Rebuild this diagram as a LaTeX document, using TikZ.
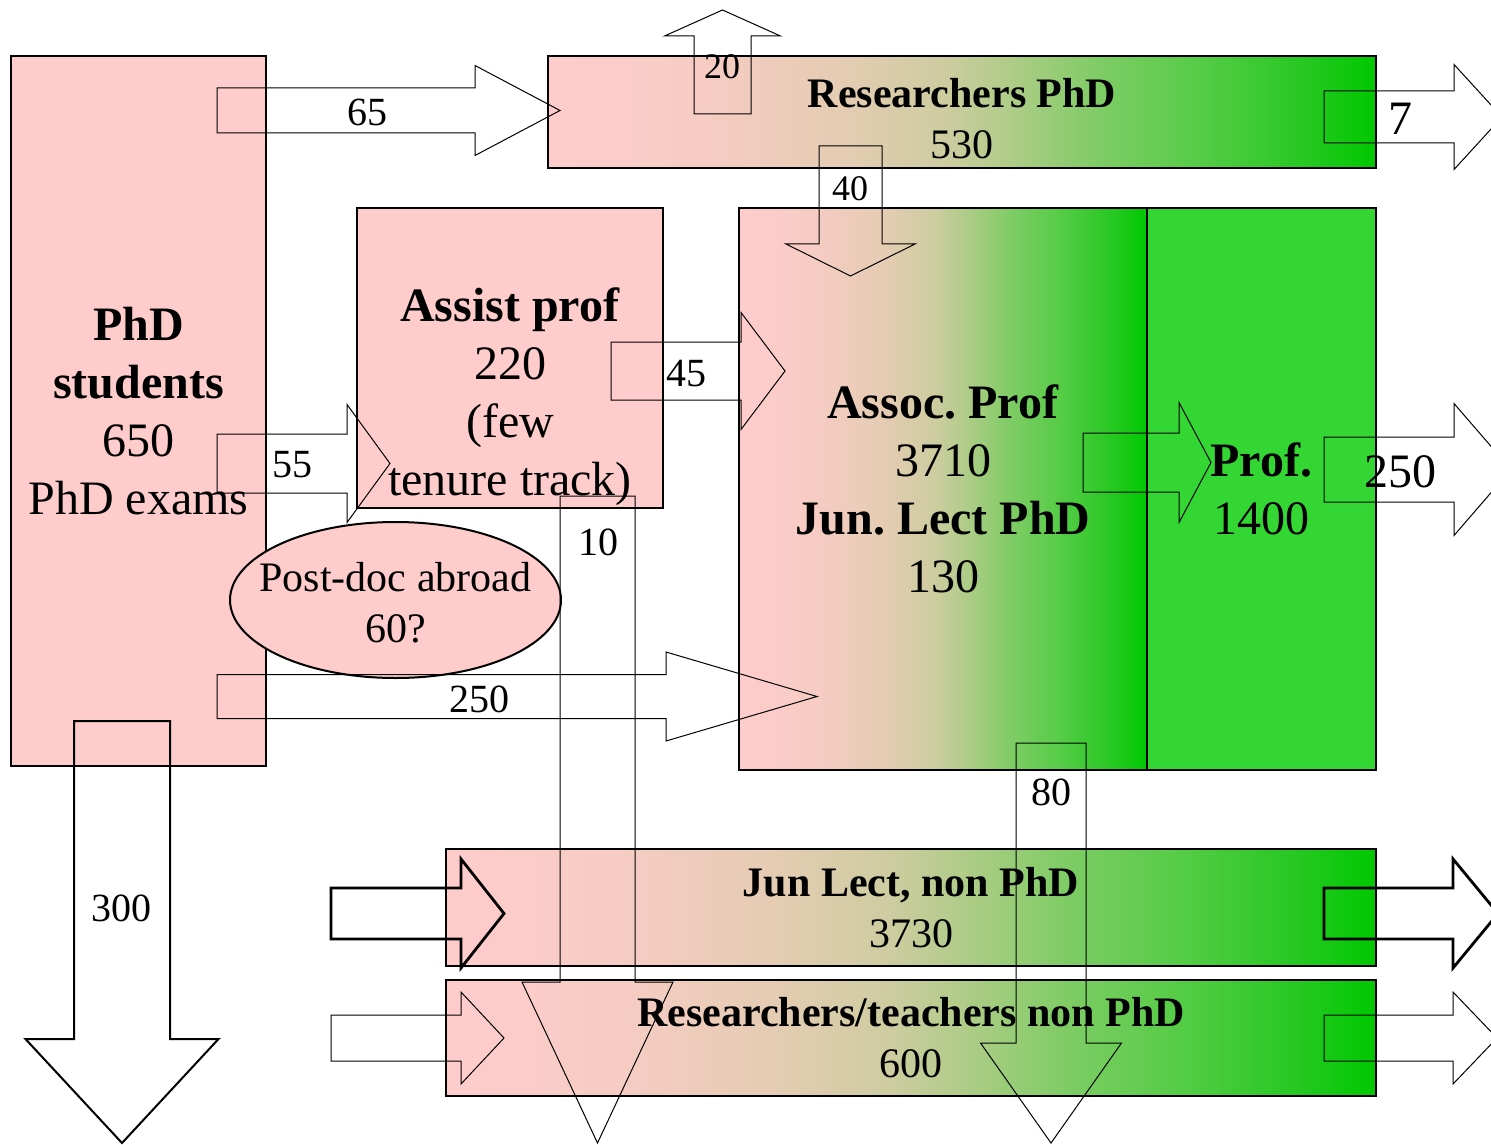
\documentclass[tikz,border=0pt]{standalone}
\usepackage{fontspec}
\setmainfont{Liberation Serif}
\usetikzlibrary{shapes.geometric}
\frenchspacing
\definecolor{boxpink}{RGB}{255,204,204}
\definecolor{profgreen}{RGB}{51,214,51}
\pgfdeclarehorizontalshading{pinkgreen}{100bp}{rgb(0bp)=(1,0.8,0.8); rgb(25bp)=(1,0.8,0.8);
  rgb(34bp)=(0.969,0.8,0.769); rgb(43bp)=(0.894,0.8,0.698); rgb(49bp)=(0.804,0.8,0.627);
  rgb(52.5bp)=(0.698,0.8,0.541); rgb(58.5bp)=(0.49,0.8,0.392); rgb(64.5bp)=(0.333,0.8,0.275);
  rgb(70.5bp)=(0.157,0.784,0.137); rgb(75bp)=(0,0.784,0); rgb(100bp)=(0,0.784,0)}
% block arrow to the right: tail x, shaft end x, tip x, mid y, half shaft, half head
\newcommand{\rflow}[7][]{\draw[flow,#1] (#2,#5-#6) -- (#3,#5-#6) -- (#3,#5-#7) -- (#4,#5)
  -- (#3,#5+#7) -- (#3,#5+#6) -- (#2,#5+#6) -- cycle;}
% vertical block arrow: mid x, tail y, shaft end y, tip y, half shaft, half head
\newcommand{\vflow}[7][]{\draw[flow,#1] (#2-#6,#3) -- (#2-#6,#4) -- (#2-#7,#4) -- (#2,#5)
  -- (#2+#7,#4) -- (#2+#6,#4) -- (#2+#6,#3) -- cycle;}
\begin{document}
\begin{tikzpicture}[x=0.5pt,y=-0.5pt,
  box/.style={draw,line width=1pt,inner sep=0pt,align=center},
  pinkbox/.style={box,fill=boxpink},
  gradbox/.style={box,shading=pinkgreen},
  big/.style={font=\fontsize{24}{29}\selectfont,align=center},
  mid/.style={font=\fontsize{21}{25.5}\selectfont,align=center},
  flow/.style={line width=0.5pt},
  num/.style={font=\fontsize{20}{24}\selectfont,inner sep=0pt},
  smallnum/.style={font=\fontsize{18}{22}\selectfont,inner sep=0pt},
  bignum/.style={font=\fontsize{24}{29}\selectfont,inner sep=0pt}]
 \clip (0,0) rectangle (1491,1144);
 % boxes
 \node[pinkbox,big,minimum width=127.5pt,minimum height=355pt] (phd) at (138.5,411)
   {\textbf{PhD}\\\textbf{students}\\650\\PhD exams};
 \node[gradbox,minimum width=414pt,minimum height=56pt] (resphd) at (962,112) {};
 \node[mid] (resphdtxt) at (962,119) {\textbf{Researchers PhD}\\530};
 \node[pinkbox,minimum width=153pt,minimum height=150pt] (assist) at (510,358) {};
 \node[big] (assisttxt) at (510,397) {\textbf{Assist prof}\\220\\(few\\tenure track)};
 \node[gradbox,big,minimum width=204pt,minimum height=281pt] (assoc) at (943,489)
   {\textbf{Assoc. Prof}\\3710\\\textbf{Jun. Lect PhD}\\130};
 \node[box,fill=profgreen,big,minimum width=114.5pt,minimum height=281pt] (prof) at (1261.5,489)
   {\textbf{Prof.}\\1400};
 \node[gradbox,mid,minimum width=465pt,minimum height=58.5pt] (junlect) at (911,907.5)
   {\textbf{Jun Lect, non PhD}\\3730};
 \node[gradbox,mid,minimum width=465pt,minimum height=58pt] (resteach) at (911,1038)
   {\textbf{Researchers/teachers non PhD}\\600};
 \node[ellipse,draw,line width=1pt,fill=boxpink,inner sep=0pt,
   minimum width=165.5pt,minimum height=78pt] (postdoc) at (395.5,600) {};
 \node[mid] (postdoctxt) at (395.5,603) {Post-doc abroad\\60?};
 % flows
 \rflow{217}{475}{560}{110.5}{22.5}{45}
 \vflow{722.5}{114}{36}{10}{28.5}{58}
 \vflow{850.5}{146}{244}{276}{31.5}{64.5}
 \rflow{1324}{1454}{1502}{117}{26}{52.5}
 \rflow{611}{741}{785}{371}{29}{58.5}
 \rflow{217}{347}{390}{463.5}{29.5}{59}
 \vflow{597.5}{496}{982}{1143}{37.5}{75.5}
 \rflow{217}{666}{817}{696.5}{22}{44.5}
 \vflow[line width=1pt]{122}{721}{1039}{1143}{48}{96.5}
 \rflow[line width=1.4pt]{331}{461}{504}{913.5}{25.5}{54.5}
 \rflow{331}{461}{504}{1038}{23}{46}
 \rflow[line width=1.4pt]{1324}{1453}{1498}{913.5}{25.5}{54.5}
 \rflow{1324}{1453}{1497}{1038}{23}{46}
 \vflow{1051}{743}{1043}{1143}{35}{70.5}
 \rflow{1324}{1454}{1511}{469.5}{32.5}{66}
 \rflow{1083}{1179}{1211}{462.5}{29.5}{60}
 % flow labels
 \node[num] (l65) at (367,112) {65};
 \node[smallnum] (l20) at (722,67) {20};
 \node[smallnum] (l40) at (850,189) {40};
 \node[bignum] (l7) at (1400,119) {7};
 \node[num] (l45) at (686,374) {45};
 \node[num] (l55) at (292,465) {55};
 \node[num] (l10) at (598,542) {10};
 \node[num] (l250a) at (479,699) {250};
 \node[num] (l300) at (121,908) {300};
 \node[num] (l80) at (1051,792) {80};
 \node[bignum] (l250b) at (1400,472) {250};
\end{tikzpicture}
\end{document}
